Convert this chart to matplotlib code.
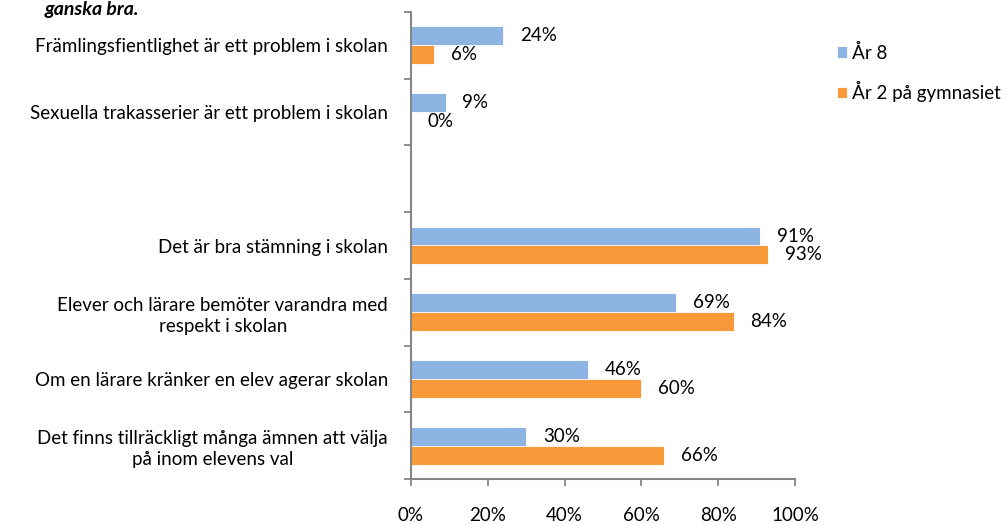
import matplotlib
matplotlib.use("Agg")
import matplotlib.pyplot as plt
import numpy as np

categories = [
    "Främlingsfientlighet är ett problem i skolan",
    "Sexuella trakasserier är ett problem i skolan",
    "",
    "Det är bra stämning i skolan",
    "Elever och lärare bemöter varandra med\nrespekt i skolan",
    "Om en lärare kränker en elev agerar skolan",
    "Det finns tillräckligt många ämnen att välja\npå inom elevens val",
]
ar8 = [24, 9, None, 91, 69, 46, 30]
gymn = [6, 0, None, 93, 84, 60, 66]
series_names = ["År 8", "År 2 på gymnasiet"]
xticks = [0, 20, 40, 60, 80, 100]
xticklabels = ["0%", "20%", "40%", "60%", "80%", "100%"]

plt.rcParams['font.family'] = ['Lato', 'DejaVu Sans']
FS = 13.5
c_blue = '#8DB3E2'
c_orange = '#F8993A'
spine_c = '#868686'

fig = plt.figure(figsize=(10.07, 5.25), dpi=100)
ax = fig.add_axes([411/1007, 1-479/525, 384/1007, 467/525])

n = len(categories)
centers = np.arange(n) + 0.5
h = 0.285
off = 0.142
for i, (a, g) in enumerate(zip(ar8, gymn)):
    if a is None:
        continue
    ax.barh(centers[i] - off, a, height=h, color=c_blue, edgecolor='white', linewidth=0.6,
            label=series_names[0] if i == 0 else None)
    ax.barh(centers[i] + off, g, height=h, color=c_orange, edgecolor='white', linewidth=0.6,
            label=series_names[1] if i == 0 else None)
    ax.annotate(f"{a}%", (a, centers[i] - off), xytext=(12, 0), textcoords='offset points',
                va='center', ha='left', fontsize=FS, color='black')
    ax.annotate(f"{g}%", (g, centers[i] + off), xytext=(12, 0), textcoords='offset points',
                va='center', ha='left', fontsize=FS, color='black')

ax.set_xlim(0, 100)
ax.set_ylim(n, 0)
ax.set_xticks(xticks)
ax.set_xticklabels(xticklabels, fontsize=FS)
ax.set_yticks(np.arange(n + 1))
ax.set_yticklabels([])
ax.set_yticks(centers, minor=True)
ax.set_yticklabels(categories, minor=True, fontsize=FS, multialignment='center', linespacing=1.3)
ax.tick_params(axis='y', which='minor', length=0, pad=16.5)
ax.tick_params(axis='y', which='major', length=5, width=1.3, color=spine_c, direction='out')
ax.tick_params(axis='x', which='major', length=5, width=1.3, color=spine_c, direction='out', pad=15)

for s in ['top', 'right']:
    ax.spines[s].set_visible(False)
for s in ['left', 'bottom']:
    ax.spines[s].set_color(spine_c)
    ax.spines[s].set_linewidth(1.5)

leg = fig.legend(loc='upper left', bbox_to_anchor=(829/1007, 1-36/525), frameon=False,
                 fontsize=FS, handlelength=0.55, handleheight=0.55, handletextpad=0.3,
                 labelspacing=1.05, borderaxespad=0)

fig.text(45/1007, 1-1/525, "ganska bra.", fontsize=14, fontweight='bold', fontstyle='italic',
         va='top', ha='left')

fig.savefig("out.png", dpi=100)
